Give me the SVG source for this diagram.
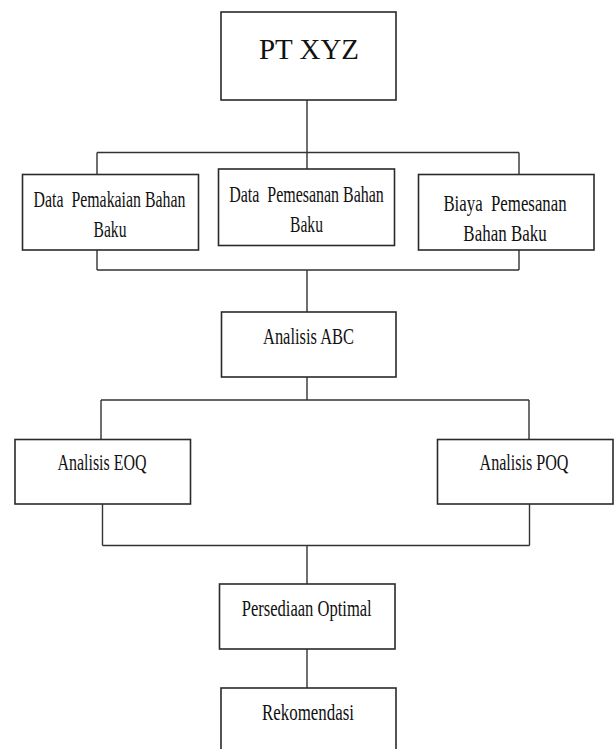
<svg xmlns="http://www.w3.org/2000/svg" width="614" height="749" viewBox="0 0 614 749">
<style>
.box{fill:#fff;stroke:#2a2a2a;stroke-width:1.6}
.ln{fill:none;stroke:#333;stroke-width:1.4}
.t{font-family:"Liberation Serif","Times New Roman",serif;font-size:24px;fill:#111;text-anchor:middle}
.big{font-size:29px}
</style>
<rect width="614" height="749" fill="#fff"/>
<g id="connectors">
<path class="ln" d="M307 100V152.5M97 152.5H519M97 152.5V174.5M519 152.5V174.5M307 152.5V169"/>
<path class="ln" d="M97 250V270M519 250V270M97 270H519M307 270V312"/>
<path class="ln" d="M307 377V400M101 400H529M101 400V439.5M529 400V439.5"/>
<path class="ln" d="M102.5 504V545.5M529.5 504V545.5M102.5 545.5H529.5M307 545.5V584"/>
<path class="ln" d="M307 649V688"/>
</g>
<g id="pt-xyz">
<rect class="box" x="221" y="12" width="175" height="88"/>
<text class="t big" x="309" y="59" textLength="100" lengthAdjust="spacingAndGlyphs">PT XYZ</text>
</g>
<g id="data-pemakaian">
<rect class="box" x="22.5" y="174.5" width="176" height="75.5"/>
<text class="t" transform="translate(109.5 207) scale(0.7 1)" xml:space="preserve" textLength="217" lengthAdjust="spacingAndGlyphs">Data  Pemakaian Bahan</text>
<text class="t" transform="translate(110 237) scale(0.7 1)" textLength="47" lengthAdjust="spacingAndGlyphs">Baku</text>
</g>
<g id="data-pemesanan">
<rect class="box" x="218.5" y="169" width="176" height="76.5"/>
<text class="t" transform="translate(306.5 201.5) scale(0.7 1)" xml:space="preserve" textLength="221" lengthAdjust="spacingAndGlyphs">Data  Pemesanan Bahan</text>
<text class="t" transform="translate(306.5 232) scale(0.7 1)" textLength="47" lengthAdjust="spacingAndGlyphs">Baku</text>
</g>
<g id="biaya-pemesanan">
<rect class="box" x="418.5" y="174.5" width="175.5" height="75.5"/>
<text class="t" transform="translate(505 210.5) scale(0.7 1)" xml:space="preserve" textLength="176" lengthAdjust="spacingAndGlyphs">Biaya  Pemesanan</text>
<text class="t" transform="translate(505 240.5) scale(0.7 1)" textLength="119" lengthAdjust="spacingAndGlyphs">Bahan Baku</text>
</g>
<g id="analisis-abc">
<rect class="box" x="221.5" y="312" width="174.5" height="65"/>
<text class="t" x="308.5" y="343.5" textLength="91" lengthAdjust="spacingAndGlyphs">Analisis ABC</text>
</g>
<g id="analisis-eoq">
<rect class="box" x="15" y="439.5" width="175.5" height="64.5"/>
<text class="t" x="102" y="469.5" textLength="89" lengthAdjust="spacingAndGlyphs">Analisis EOQ</text>
</g>
<g id="analisis-poq">
<rect class="box" x="437.5" y="439.5" width="175.5" height="64.5"/>
<text class="t" x="524" y="469.5" textLength="89" lengthAdjust="spacingAndGlyphs">Analisis POQ</text>
</g>
<g id="persediaan-optimal">
<rect class="box" x="219.5" y="584" width="175.5" height="65"/>
<text class="t" x="306.7" y="616" textLength="130" lengthAdjust="spacingAndGlyphs">Persediaan Optimal</text>
</g>
<g id="rekomendasi">
<rect class="box" x="221" y="688" width="175" height="70"/>
<text class="t" x="308" y="719.5" textLength="92" lengthAdjust="spacingAndGlyphs">Rekomendasi</text>
</g>
</svg>
